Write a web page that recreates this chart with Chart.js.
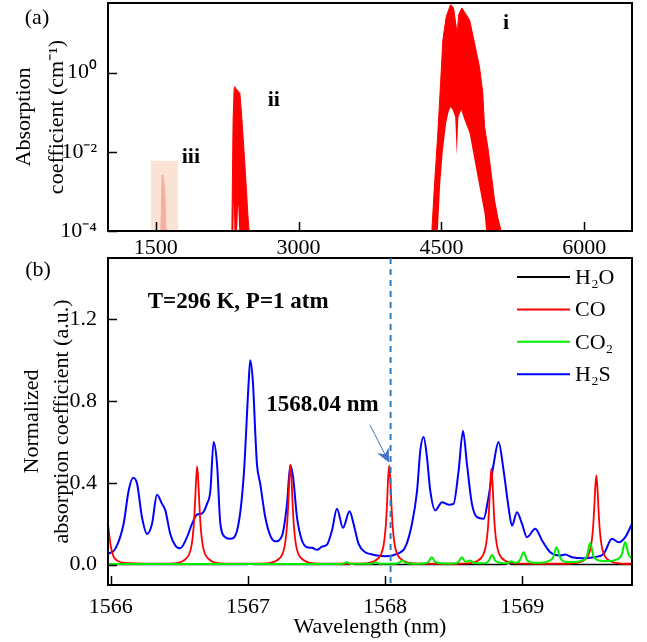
<!DOCTYPE html>
<html>
<head>
<meta charset="utf-8">
<script src="https://cdn.jsdelivr.net/npm/chart.js@4.4.1/dist/chart.umd.min.js"></script>
<style>
  html, body { margin: 0; padding: 0; background: #fff; }
  #wrap { position: relative; width: 647px; height: 642px; }
  .box { position: absolute; left: 0; width: 647px; }
  #topBox { top: 0; height: 262px; }
  #botBox { top: 250px; height: 392px; }
</style>
</head>
<body>
<div id="wrap">
  <div class="box" id="topBox"><canvas id="topChart"></canvas></div>
  <div class="box" id="botBox"><canvas id="botChart"></canvas></div>
</div>
<script>
// ---- Panel (a): CO absorption bands, log scale ----
// outer = upper envelope of the dense line band, inner = lower envelope (white below it)
const bandIOuterNm  = [4399, 4428, 4462, 4491, 4515, 4550, 4595, 4627, 4666, 4680, 4714, 4753, 4795, 4847, 4899, 4934, 4952, 4987, 5022, 5057, 5091, 5127];
const bandIOuterAbs = [1e-4, 0.0016, 0.03, 0.55, 6.7, 25.7, 51.7, 43, 9, 29, 42.7, 30.6, 21.6, 5.6, 1.4, 0.31, 0.043, 0.013, 0.0029, 6e-4, 2.2e-4, 1e-4];
const bandIInnerNm  = [4399, 4462, 4487, 4515, 4550, 4574, 4595, 4619, 4644, 4661, 4678, 4707, 4742, 4795, 4847, 4899, 4952, 4970, 5127];
const bandIInnerAbs = [1e-4, 1e-4, 0.0016, 0.011, 0.053, 0.10, 0.135, 0.114, 0.076, 0.0083, 0.076, 0.114, 0.063, 0.0297, 0.0062, 0.0013, 2.8e-4, 1e-4, 1e-4];
const bandIIOuterNm  = [2300, 2307, 2313, 2324, 2331, 2345, 2357, 2376, 2384, 2401, 2418, 2436, 2453, 2470, 2481];
const bandIIOuterAbs = [1e-4, 0.0035, 0.063, 0.40, 0.44, 0.38, 0.365, 0.31, 0.30, 0.094, 0.024, 0.0051, 0.0011, 2.2e-4, 1e-4];
const bandIIInnerNm  = [2300, 2316, 2321, 2326, 2355, 2366, 2377, 2481];
const bandIIInnerAbs = [1e-4, 1e-4, 6e-4, 1e-4, 1e-4, 5e-4, 1e-4, 1e-4];
const bandIIINm  = [1555, 1562, 1569, 1576, 1587, 1597, 1608];
const bandIIIAbs = [1e-4, 6e-4, 0.0026, 0.0021, 0.0017, 8e-4, 1e-4];
const highlightNm  = [1451, 1734];
const highlightAbs = [0.0059, 0.0059];

const bandLabels   = ['i', 'ii', 'iii'];
const bandLabelNm  = [5179, 2740, 1870];
const bandLabelAbs = [18, 0.2, 0.0074];

const topXTicks    = [1500, 2250, 3000, 3750, 4500, 5250, 6000];
const topXLabeled  = [1500, 3000, 4500, 6000];
const topYDecades  = [1e-4, 1e-3, 1e-2, 1e-1, 1, 10];
const topYLabelVal = [1e-4, 1e-2, 1];
const topYLabelTxt = ['10⁻⁴', '10⁻²', '10⁰'];

// ---- Panel (b): normalized absorption near 1568 nm ----
const h2oNm  = [1565.98, 1567.0, 1567.02, 1567.04, 1567.74, 1567.76, 1567.78, 1568.88, 1568.9, 1568.92, 1569.8];
const h2oVal = [0, 0, 0.004, 0, 0, 0.005, 0, 0, 0.006, 0, 0];

const coNm  = [1565.98, 1566.0, 1566.02, 1566.05, 1566.1, 1566.3, 1566.45, 1566.53, 1566.57, 1566.59, 1566.605, 1566.615, 1566.622, 1566.63, 1566.638, 1566.645, 1566.655, 1566.67, 1566.69, 1566.73, 1566.81, 1566.95,
  1567.13, 1567.21, 1567.25, 1567.27, 1567.285, 1567.295, 1567.302, 1567.31, 1567.318, 1567.325, 1567.335, 1567.35, 1567.37, 1567.41, 1567.49, 1567.7,
  1567.85, 1567.93, 1567.97, 1567.99, 1568.005, 1568.015, 1568.022, 1568.03, 1568.038, 1568.045, 1568.055, 1568.07, 1568.09, 1568.13, 1568.21, 1568.45,
  1568.595, 1568.675, 1568.715, 1568.735, 1568.75, 1568.76, 1568.767, 1568.775, 1568.783, 1568.79, 1568.8, 1568.815, 1568.835, 1568.875, 1568.955, 1569.2,
  1569.36, 1569.44, 1569.48, 1569.5, 1569.515, 1569.525, 1569.532, 1569.54, 1569.548, 1569.555, 1569.565, 1569.58, 1569.6, 1569.64, 1569.72, 1569.8];
const coVal = [0.20, 0.09, 0.04, 0.018, 0.008, 0.004, 0.006, 0.019, 0.048, 0.096, 0.19, 0.31, 0.41, 0.48, 0.41, 0.31, 0.19, 0.096, 0.048, 0.019, 0.006, 0.004,
  0.006, 0.02, 0.049, 0.098, 0.19, 0.31, 0.42, 0.49, 0.42, 0.31, 0.19, 0.098, 0.049, 0.02, 0.006, 0.004,
  0.006, 0.02, 0.049, 0.097, 0.19, 0.31, 0.42, 0.485, 0.42, 0.31, 0.19, 0.097, 0.049, 0.02, 0.006, 0.004,
  0.006, 0.019, 0.047, 0.094, 0.18, 0.30, 0.40, 0.47, 0.40, 0.30, 0.18, 0.094, 0.047, 0.019, 0.006, 0.004,
  0.005, 0.017, 0.044, 0.087, 0.17, 0.28, 0.375, 0.436, 0.375, 0.28, 0.17, 0.087, 0.044, 0.017, 0.005, 0.004];

const co2Nm  = [1565.98, 1567.2, 1567.6, 1567.69, 1567.72, 1567.75, 1567.9, 1567.93, 1567.96, 1568.07, 1568.1, 1568.125, 1568.15, 1568.2, 1568.28, 1568.315, 1568.34, 1568.365, 1568.42,
  1568.5, 1568.535, 1568.56, 1568.585, 1568.6, 1568.62, 1568.645, 1568.72, 1568.755, 1568.78, 1568.805, 1568.86, 1568.895, 1568.92, 1568.945, 1568.97, 1568.985, 1569.01, 1569.035,
  1569.08, 1569.16, 1569.2, 1569.225, 1569.25, 1569.275, 1569.31, 1569.38, 1569.44, 1569.47, 1569.495, 1569.52, 1569.56, 1569.62, 1569.69, 1569.725, 1569.75, 1569.775, 1569.8];
const co2Val = [0.003, 0.003, 0.003, 0.004, 0.011, 0.004, 0.004, 0.011, 0.004, 0.004, 0.008, 0.02, 0.008, 0.004, 0.005, 0.013, 0.036, 0.013, 0.005,
  0.005, 0.013, 0.036, 0.014, 0.016, 0.02, 0.009, 0.006, 0.017, 0.047, 0.017, 0.007, 0.008, 0.016, 0.009, 0.012, 0.025, 0.06, 0.022,
  0.009, 0.01, 0.02, 0.035, 0.085, 0.035, 0.014, 0.012, 0.02, 0.04, 0.105, 0.04, 0.02, 0.017, 0.025, 0.048, 0.11, 0.05, 0.03];

const h2sNm = [1565.98, 1566.034, 1566.094, 1566.13, 1566.163, 1566.192, 1566.228, 1566.265, 1566.301, 1566.337, 1566.374, 1566.398, 1566.434, 1566.471, 1566.507,
  1566.556, 1566.593, 1566.629, 1566.665, 1566.702, 1566.726, 1566.75, 1566.775, 1566.799, 1566.835, 1566.872, 1566.921, 1566.969, 1567.005, 1567.017, 1567.037,
  1567.054, 1567.066, 1567.09, 1567.127, 1567.163, 1567.2, 1567.249, 1567.285, 1567.309, 1567.329, 1567.358, 1567.394, 1567.431, 1567.467, 1567.504, 1567.54,
  1567.577, 1567.613, 1567.649, 1567.693, 1567.741, 1567.77, 1567.807, 1567.856, 1567.892, 1567.941, 1568.014, 1568.087, 1568.147, 1568.196, 1568.233, 1568.257,
  1568.281, 1568.305, 1568.329, 1568.366, 1568.415, 1568.463, 1568.499, 1568.536, 1568.568, 1568.597, 1568.633, 1568.67, 1568.718, 1568.754, 1568.791, 1568.827,
  1568.864, 1568.9, 1568.925, 1568.961, 1568.998, 1569.034, 1569.095, 1569.144, 1569.204, 1569.277, 1569.313, 1569.362, 1569.447, 1569.52, 1569.593, 1569.654,
  1569.702, 1569.751, 1569.8];
const h2sVal = [0.052, 0.078, 0.20, 0.36, 0.425, 0.395, 0.23, 0.15, 0.20, 0.342, 0.297, 0.265, 0.15, 0.093, 0.08,
  0.134, 0.20, 0.245, 0.25, 0.297, 0.36, 0.60, 0.49, 0.20, 0.134, 0.126, 0.167, 0.43, 0.886, 1.0, 0.886,
  0.64, 0.49, 0.395, 0.23, 0.142, 0.114, 0.142, 0.297, 0.485, 0.43, 0.23, 0.118, 0.085, 0.082, 0.072, 0.088,
  0.098, 0.167, 0.273, 0.18, 0.261, 0.20, 0.101, 0.06, 0.052, 0.044, 0.041, 0.052, 0.085, 0.20, 0.36, 0.56,
  0.624, 0.526, 0.363, 0.265, 0.305, 0.293, 0.297, 0.46, 0.653, 0.49, 0.297, 0.232, 0.224, 0.33, 0.49, 0.60,
  0.46, 0.28, 0.19, 0.256, 0.20, 0.134, 0.175, 0.118, 0.06, 0.044, 0.049, 0.036, 0.031, 0.036, 0.052, 0.126,
  0.109, 0.134, 0.20];

const botXTicks   = [1566, 1566.5, 1567, 1567.5, 1568, 1568.5, 1569, 1569.5];
const botXLabeled = [1566, 1567, 1568, 1569];
const botYTicks   = [0, 0.2, 0.4, 0.6, 0.8, 1.0, 1.2, 1.4];
const botYLabeled = [0, 0.4, 0.8, 1.2];

const markerNm = 1568.04;
const arrowFrom = [1567.889, 0.684];
const arrowTo   = [1568.029, 0.50];

// ---- helpers ----
const SERIF = "'Liberation Serif', 'Times New Roman', serif";
Chart.defaults.font.family = SERIF;
Chart.defaults.color = '#000';

const pts = (xs, ys) => xs.map((x, i) => ({ x, y: ys[i] }));
const near = (list, v) => list.some(m => Math.abs(m - v) <= 1e-6 * Math.max(1, Math.abs(m)));

const topYTicks = [];
topYDecades.forEach(d => {
  for (let k = 1; k <= 9; k++) if (k * d <= 57) topYTicks.push(k * d);
});

// keep the plot area exactly where the layout padding puts it
const noEdgePad = s => { s.paddingTop = 0; s.paddingBottom = 0; s.paddingLeft = 0; s.paddingRight = 0; };

// inward tick marks + box frame
const frameTicks = {
  id: 'frameTicks',
  afterDatasetsDraw(chart, args, opts) {
    const { ctx, chartArea: a } = chart;
    ctx.save();
    ctx.strokeStyle = '#000';
    ctx.lineWidth = 1.5;
    ['x', 'y'].forEach(id => {
      const s = chart.scales[id];
      s.ticks.forEach(t => {
        const len = near(opts[id + 'Major'], t.value) ? 9 : 5;
        const p = Math.round(s.getPixelForValue(t.value)) + 0.5;
        ctx.beginPath();
        if (id === 'x') { ctx.moveTo(p, a.bottom); ctx.lineTo(p, a.bottom - len); }
        else { ctx.moveTo(a.left, p); ctx.lineTo(a.left + len, p); }
        ctx.stroke();
      });
    });
    ctx.lineWidth = 2;
    ctx.strokeRect(a.left, a.top, a.right - a.left, a.bottom - a.top);
    ctx.restore();
  }
};

const topAnno = {
  id: 'topAnno',
  afterDraw(chart) {
    const { ctx, scales: { x, y } } = chart;
    ctx.save();
    ctx.fillStyle = '#000';
    ctx.textBaseline = 'middle';
    ctx.textAlign = 'center';
    ctx.font = '22px ' + SERIF;
    ctx.fillText('(a)', 37, 18);
    ctx.font = 'bold 22px ' + SERIF;
    bandLabels.forEach((t, i) => {
      ctx.fillText(t, x.getPixelForValue(bandLabelNm[i]), y.getPixelForValue(bandLabelAbs[i]));
    });
    ctx.restore();
  }
};

const botAnno = {
  id: 'botAnno',
  afterDraw(chart) {
    const { ctx, chartArea: a, scales: { x, y } } = chart;
    ctx.save();
    // dashed marker line
    const mx = x.getPixelForValue(markerNm);
    ctx.strokeStyle = '#2a7bc6';
    ctx.lineWidth = 2;
    ctx.setLineDash([6, 5]);
    ctx.beginPath();
    ctx.moveTo(mx, a.top);
    ctx.lineTo(mx, a.bottom);
    ctx.stroke();
    ctx.setLineDash([]);
    // arrow
    const x1 = x.getPixelForValue(arrowFrom[0]), y1 = y.getPixelForValue(arrowFrom[1]);
    const x2 = x.getPixelForValue(arrowTo[0]), y2 = y.getPixelForValue(arrowTo[1]);
    const ang = Math.atan2(y2 - y1, x2 - x1);
    ctx.strokeStyle = ctx.fillStyle = '#4472c4';
    ctx.lineWidth = 1;
    ctx.beginPath();
    ctx.moveTo(x1, y1);
    ctx.lineTo(x2 - 8 * Math.cos(ang), y2 - 8 * Math.sin(ang));
    ctx.stroke();
    ctx.beginPath();
    ctx.moveTo(x2, y2);
    ctx.lineTo(x2 - 15 * Math.cos(ang - 0.45), y2 - 15 * Math.sin(ang - 0.45));
    ctx.lineTo(x2 - 9 * Math.cos(ang), y2 - 9 * Math.sin(ang));
    ctx.lineTo(x2 - 15 * Math.cos(ang + 0.45), y2 - 15 * Math.sin(ang + 0.45));
    ctx.closePath();
    ctx.fill();
    // texts
    ctx.fillStyle = '#000';
    ctx.textBaseline = 'middle';
    ctx.font = '22px ' + SERIF;
    ctx.textAlign = 'center';
    ctx.fillText('(b)', 38, 20);
    ctx.font = 'bold 23px ' + SERIF;
    ctx.textAlign = 'left';
    ctx.fillText('T=296 K, P=1 atm', x.getPixelForValue(1566.27), y.getPixelForValue(1.284));
    ctx.textAlign = 'center';
    ctx.fillText('1568.04 nm', x.getPixelForValue(1567.544), y.getPixelForValue(0.78));
    // legend
    ctx.font = '22px ' + SERIF;
    ctx.textAlign = 'left';
    const order = [3, 2, 1, 0];
    order.forEach((di, i) => {
      const ds = chart.data.datasets[di];
      const ly = a.top + 19 + i * 32.4;
      ctx.strokeStyle = ds.borderColor;
      ctx.lineWidth = 2;
      ctx.beginPath();
      ctx.moveTo(a.right - 115, ly);
      ctx.lineTo(a.right - 62, ly);
      ctx.stroke();
      ctx.fillText(ds.label, a.right - 57, ly + 1);
    });
    ctx.restore();
  }
};

const tickFont = { size: 22, family: SERIF };
const envelope = { fill: false, borderWidth: 0, pointRadius: 0 };

new Chart(document.getElementById('topChart'), {
  type: 'line',
  data: {
    datasets: [
      // 0..1 band i, 2..3 band ii, 4 band iii, 5 highlight box
      { data: pts(bandIOuterNm, bandIOuterAbs), fill: 1, backgroundColor: '#ff0000', borderColor: '#ff0000', borderWidth: 1, pointRadius: 0, order: 2 },
      { data: pts(bandIInnerNm, bandIInnerAbs), ...envelope, order: 3 },
      { data: pts(bandIIOuterNm, bandIIOuterAbs), fill: 3, backgroundColor: '#ff0000', borderColor: '#ff0000', borderWidth: 1, pointRadius: 0, order: 2 },
      { data: pts(bandIIInnerNm, bandIIInnerAbs), ...envelope, order: 3 },
      { data: pts(bandIIINm, bandIIIAbs), fill: 'start', backgroundColor: '#f7a29a', borderColor: '#f7a29a', borderWidth: 1, pointRadius: 0, order: 2 },
      { data: pts(highlightNm, highlightAbs), fill: 'start', backgroundColor: 'rgba(245,190,160,0.45)', borderWidth: 0, pointRadius: 0, order: 1 }
    ]
  },
  options: {
    responsive: true,
    maintainAspectRatio: false,
    devicePixelRatio: 1,
    animation: false,
    events: [],
    layout: { padding: { top: 3, right: 15, bottom: 0, left: 0 } },
    elements: { line: { tension: 0 } },
    plugins: { legend: { display: false }, tooltip: { enabled: false }, filler: { propagate: false },
      frameTicks: { xMajor: topXLabeled, yMajor: topYDecades } },
    scales: {
      x: {
        type: 'linear', min: 1000, max: 6500,
        grid: { display: false, drawTicks: false },
        border: { display: false },
        afterBuildTicks: s => { s.ticks = topXTicks.map(v => ({ value: v })); },
        afterFit: s => { s.height = 31; noEdgePad(s); },
        ticks: { font: tickFont, padding: 4, autoSkip: false, maxRotation: 0,
          callback: v => near(topXLabeled, v) ? String(v) : null }
      },
      y: {
        type: 'logarithmic', min: 1e-4, max: 57,
        grid: { display: false, drawTicks: false },
        border: { display: false },
        afterBuildTicks: s => { s.ticks = topYTicks.map(v => ({ value: v })); },
        afterFit: s => { s.width = 108; noEdgePad(s); },
        ticks: { font: tickFont, padding: 11, autoSkip: false,
          callback: v => { const i = topYLabelVal.findIndex(m => Math.abs(m - v) <= 1e-6 * m); return i >= 0 ? topYLabelTxt[i] : null; } },
        title: { display: true, text: ['Absorption', 'coefficient (cm⁻¹)'], font: { size: 22, family: SERIF, lineHeight: 1.5 }, padding: { top: 8, bottom: 0 } }
      }
    }
  },
  plugins: [frameTicks, topAnno]
});

new Chart(document.getElementById('botChart'), {
  type: 'line',
  data: {
    datasets: [
      { label: 'H₂S', data: pts(h2sNm, h2sVal), borderColor: '#0000ff', borderWidth: 2, order: 3 },
      { label: 'CO₂', data: pts(co2Nm, co2Val), borderColor: '#00ee00', borderWidth: 2, order: 1 },
      { label: 'CO', data: pts(coNm, coVal), borderColor: '#ff0000', borderWidth: 1.8, order: 2 },
      { label: 'H₂O', data: pts(h2oNm, h2oVal), borderColor: '#000000', borderWidth: 1.5, order: 4 }
    ]
  },
  options: {
    responsive: true,
    maintainAspectRatio: false,
    devicePixelRatio: 1,
    animation: false,
    events: [],
    layout: { padding: { top: 8, right: 15, bottom: 0, left: 0 } },
    elements: { point: { radius: 0 }, line: { cubicInterpolationMode: 'monotone', fill: false } },
    plugins: { legend: { display: false }, tooltip: { enabled: false }, frameTicks: { xMajor: botXLabeled, yMajor: botYLabeled } },
    scales: {
      x: {
        type: 'linear', min: 1565.98, max: 1569.8,
        grid: { display: false, drawTicks: false },
        border: { display: false },
        afterBuildTicks: s => { s.ticks = botXTicks.map(v => ({ value: v })); },
        afterFit: s => { s.height = 57; noEdgePad(s); },
        ticks: { font: tickFont, padding: 9, autoSkip: false, maxRotation: 0,
          callback: v => near(botXLabeled, v) ? String(v) : null },
        title: { display: true, text: 'Wavelength (nm)', font: { size: 22, family: SERIF }, padding: { top: 0, bottom: 2 } }
      },
      y: {
        type: 'linear', min: -0.1, max: 1.5,
        grid: { display: false, drawTicks: false },
        border: { display: false },
        afterBuildTicks: s => { s.ticks = botYTicks.map(v => ({ value: v })); },
        afterFit: s => { s.width = 108; noEdgePad(s); },
        ticks: { font: tickFont, padding: 11, autoSkip: false,
          callback: v => near(botYLabeled, v) ? v.toFixed(1) : null },
        title: { display: true, text: ['Normalized', 'absorption coefficient (a.u.)'], font: { size: 22, family: SERIF, lineHeight: 1.36 }, padding: { top: 17, bottom: 0 } }
      }
    }
  },
  plugins: [frameTicks, botAnno]
});
</script>
</body>
</html>
